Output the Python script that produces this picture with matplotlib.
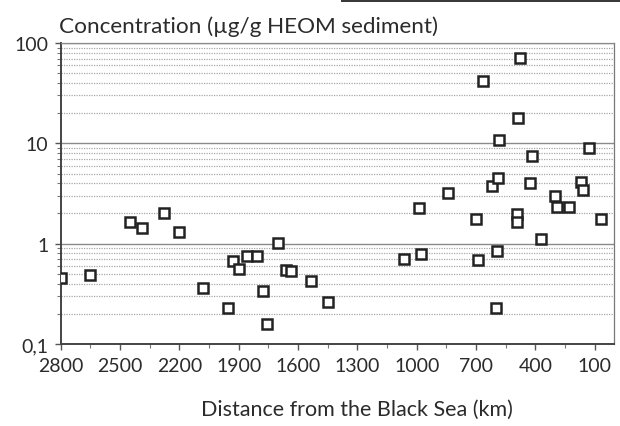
"""Concentration vs distance from the Black Sea (log scale scatter)."""

import matplotlib

matplotlib.use("Agg")
import matplotlib.pyplot as plt
from matplotlib.patches import Rectangle
from matplotlib.ticker import FixedLocator, LogLocator, NullFormatter


# distance from the Black Sea (km) and concentration (ug/g HEOM sediment)
distance_km = [
    2800, 2650, 2450, 2390, 2280, 2200, 2080, 1955, 1930, 1900,
    1860, 1810, 1775, 1755, 1700, 1660, 1635, 1535, 1450, 1065,
    990, 980, 840, 700, 690, 665, 620, 590, 585, 595,
    600, 495, 495, 490, 475, 425, 415, 370, 300, 290,
    230, 170, 160, 130, 70,
]
concentration = [
    0.46, 0.49, 1.64, 1.43, 2.02, 1.31, 0.36, 0.228, 0.67, 0.56,
    0.75, 0.75, 0.34, 0.158, 1.01, 0.55, 0.53, 0.42, 0.26, 0.70,
    2.26, 0.79, 3.19, 1.76, 0.69, 41.8, 3.75, 4.5, 10.8, 0.84,
    0.23, 1.97, 1.64, 17.9, 70.8, 4.02, 7.47, 1.11, 2.98, 2.32,
    2.32, 4.11, 3.42, 8.98, 1.76,
]

x_ticks = [2800, 2500, 2200, 1900, 1600, 1300, 1000, 700, 400, 100]
x_minor = [2650, 2350, 2050, 1750, 1450, 1150, 850, 550, 250]
y_ticks = [0.1, 1, 10, 100]
y_labels = ["0,1", "1", "10", "100"]

TEXT = "#2b2b2b"
plt.rcParams["font.family"] = ["Lato", "DejaVu Sans"]

fig = plt.figure(figsize=(6.2, 4.27), dpi=100)
ax = fig.add_axes([0.098, 0.192, 0.893, 0.705])

ax.set_yscale("log")
ax.set_ylim(0.1, 100)
ax.set_xlim(2800, 0)

# dense grey horizontal rules as in the scanned original
ax.yaxis.set_minor_locator(LogLocator(base=10, subs=range(2, 10)))
ax.yaxis.set_minor_formatter(NullFormatter())
ax.grid(True, axis="y", which="major", color="#8a8a8a", linewidth=1.0)
ax.grid(True, axis="y", which="minor", color="#a8a8a8", linewidth=0.9, linestyle=(0, (1, 1)))
ax.set_axisbelow(True)

ax.plot(
    distance_km, concentration, linestyle="none", marker="s",
    markersize=6.5, markerfacecolor="white", markeredgecolor="#222222",
    markeredgewidth=1.8, zorder=3,
)

ax.xaxis.set_major_locator(FixedLocator(x_ticks))
ax.xaxis.set_minor_locator(FixedLocator(x_minor))
ax.set_xticklabels([str(v) for v in x_ticks])
ax.set_yticks(y_ticks)
ax.set_yticklabels(y_labels)

ax.tick_params(axis="both", which="major", labelsize=14, colors="#555555",
               labelcolor=TEXT, length=4, width=1.0, pad=5)
ax.tick_params(axis="both", which="minor", colors="#777777", length=3, width=0.8)

for side in ["left", "bottom"]:
    ax.spines[side].set_color("#444444")
    ax.spines[side].set_linewidth(1.4)
ax.spines["top"].set_color("#8a8a8a")
ax.spines["top"].set_linewidth(0.9)
ax.spines["right"].set_color("#777777")
ax.spines["right"].set_linewidth(0.9)
ax.spines["right"].set_linestyle((0, (1, 1)))

fig.text(0.095, 0.937, "Concentration (µg/g HEOM sediment)", fontsize=16.2,
         color=TEXT, ha="left", va="center")
fig.text(0.575, 0.04, "Distance from the Black Sea (km)", fontsize=15.5,
         color=TEXT, ha="center", va="center")

# dark scan edge along the top of the page
fig.patches.append(Rectangle((0.55, 0.992), 0.45, 0.008, transform=fig.transFigure,
                             facecolor="#3a3a3a", edgecolor="none"))

fig.savefig("out.png", dpi=100)
plt.close(fig)
